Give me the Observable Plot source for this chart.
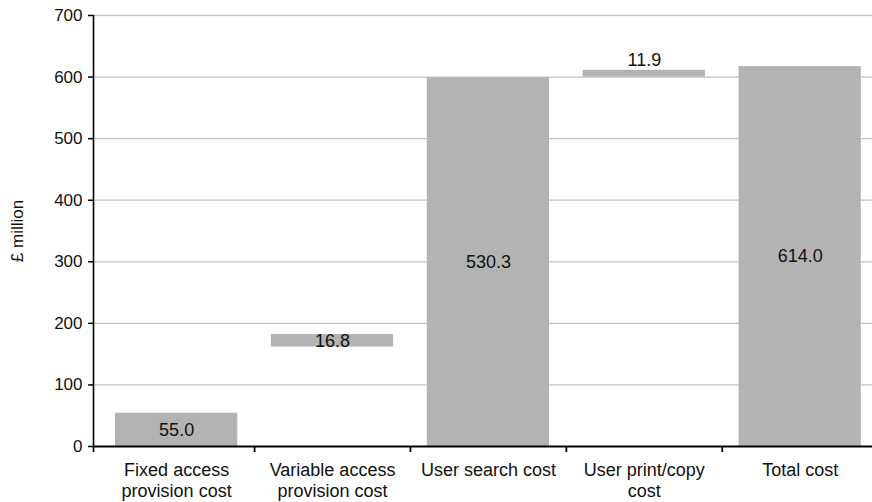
<!DOCTYPE html>
<html>
<head>
<meta charset="utf-8">
<script src="https://cdn.jsdelivr.net/npm/d3@7"></script>
<script src="https://cdn.jsdelivr.net/npm/@observablehq/plot@0.6"></script>
<style>
  html, body { margin: 0; padding: 0; background: #fff; }
  #chart { width: 872px; height: 502px; }
</style>
</head>
<body>
<div id="chart"></div>
<script>
// ---- data ----
const categories = ["Fixed access provision cost", "Variable access provision cost", "User search cost", "User print/copy cost", "Total cost"];
const tickLabels = ["Fixed access\nprovision cost", "Variable access\nprovision cost", "User search cost", "User print/copy\ncost", "Total cost"];
const barLow  = [0, 161.5, 0, 600, 0];
const barHigh = [54, 182, 599, 611, 617];
const valueLabels = ["55.0", "16.8", "530.3", "11.9", "614.0"];
const yTicks = [0, 100, 200, 300, 400, 500, 600, 700];
const yLabel = "£ million";

const data = categories.map((c, i) => ({category: c, low: barLow[i], high: barHigh[i], label: valueLabels[i], idx: i}));

// ---- layout ----
const W = 872, H = 502, mL = 93, mR = 0, mT = 15, mB = 56;
const pInner = 0.216, pOuter = 0.1065, align = 0.663;
const n = categories.length;
const step = (W - mL - mR) / (n - pInner + 2 * pOuter);
const bw = step * (1 - pInner);
const leftOuter = (W - mL - mR - step * (n - pInner)) * align;

const font = "Arial, 'Liberation Sans', Helvetica, sans-serif";
const ink = "#111";

const chart = Plot.plot({
  width: W, height: H,
  marginLeft: mL, marginRight: mR, marginTop: mT, marginBottom: mB,
  style: {fontFamily: font, fontSize: "17px", color: ink, background: "#fff", overflow: "visible"},
  x: {domain: categories, paddingInner: pInner, paddingOuter: pOuter, align, round: false},
  y: {domain: [0, 700]},
  marks: [
    Plot.gridY(yTicks.filter(d => d > 0), {stroke: "#c2c2c2", strokeOpacity: 1, strokeWidth: 1.3}),
    Plot.barY(data, {x: "category", y1: "low", y2: "high", fill: "#b3b3b3"}),
    Plot.text(data.filter(d => d.idx !== 3), {x: "category", y: d => (d.low + d.high) / 2, text: "label", fontSize: 18, fill: ink, lineAnchor: "middle"}),
    Plot.text(data.filter(d => d.idx === 3), {x: "category", y: "high", text: "label", fontSize: 18, fill: ink, lineAnchor: "bottom", dy: -4}),
    Plot.ruleY([0], {stroke: "#000", strokeWidth: 1.8}),
    Plot.ruleX([categories[0]], {y1: -9.75, y2: 700, dx: -(leftOuter + bw / 2), stroke: "#000", strokeWidth: 1.6}),
    Plot.ruleX(categories.slice(1), {y1: 0, y2: -9.75, dx: -step / 2, stroke: "#000", strokeWidth: 1.8}),
    Plot.axisY({ticks: yTicks, tickSize: 5, tickPadding: 6, fontSize: 17, stroke: "#000", strokeWidth: 1.5, label: null, tickFormat: d => String(d)}),
    Plot.axisX({tickSize: 0, tickPadding: 14.5, fontSize: 18, lineHeight: 1.17, label: null, tickFormat: d => tickLabels[categories.indexOf(d)]}),
    Plot.text([yLabel], {text: d => d, frameAnchor: "left", textAnchor: "middle", rotate: -90, dx: -76, fontSize: 17, fill: ink, lineAnchor: "middle"})
  ]
});
document.getElementById("chart").appendChild(chart);
</script>
</body>
</html>
